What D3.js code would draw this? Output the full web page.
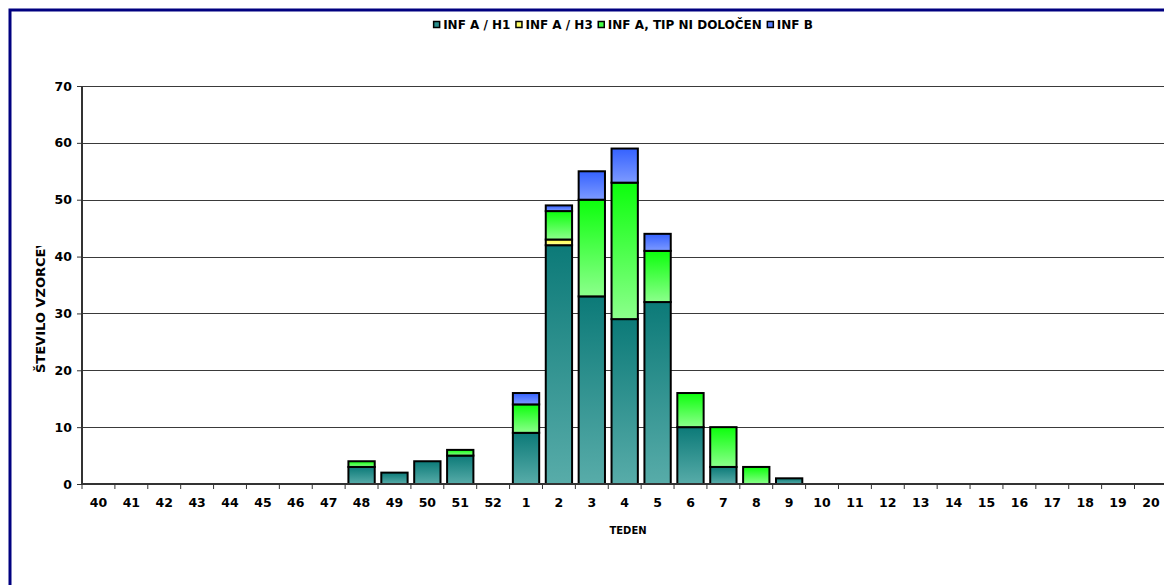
<!DOCTYPE html>
<html>
<head>
<meta charset="utf-8">
<script src="https://cdn.jsdelivr.net/npm/d3@7"></script>
<style>
  html, body { margin: 0; padding: 0; background: #fff; }
  svg { display: block; }
  text { font-family: "DejaVu Sans", Verdana, sans-serif; font-weight: bold; fill: #000; }
</style>
</head>
<body>
<svg id="chart" width="1164" height="585"></svg>
<script>
// Weeks of the season (week 40 to week 20 of next year)
const weeks = ["40","41","42","43","44","45","46","47","48","49","50","51","52",
               "1","2","3","4","5","6","7","8","9","10","11","12","13","14","15","16","17","18","19","20"];

// Number of positive samples per week, by virus type
const infAH1 = [0,0,0,0,0,0,0,0, 3,2,4,5,0, 9,42,33,29,32,10,3,0,1, 0,0,0,0,0,0,0,0,0,0,0];
const infAH3 = [0,0,0,0,0,0,0,0, 0,0,0,0,0, 0,1,0,0,0,0,0,0,0, 0,0,0,0,0,0,0,0,0,0,0];
const infANd = [0,0,0,0,0,0,0,0, 1,0,0,1,0, 5,5,17,24,9,6,7,3,0, 0,0,0,0,0,0,0,0,0,0,0];
const infB   = [0,0,0,0,0,0,0,0, 0,0,0,0,0, 2,1,5,6,3,0,0,0,0, 0,0,0,0,0,0,0,0,0,0,0];

const seriesNames = ["INF A / H1", "INF A / H3", "INF A, TIP NI DOLOČEN", "INF B"];
const yTicks = [0, 10, 20, 30, 40, 50, 60, 70];

const rows = weeks.map((w, i) => ({ week: w, s0: infAH1[i], s1: infAH3[i], s2: infANd[i], s3: infB[i] }));
const keys = ["s0", "s1", "s2", "s3"];

// gradient stops (top, bottom) per series
const grads = [
  ["#0c7a78", "#58aca9"],
  ["#ffff44", "#ffff99"],
  ["#0cff0c", "#8cff8c"],
  ["#3562ff", "#7d9aff"]
];
const legendFill = ["#2a8f8d", "#ffff66", "#44ff44", "#5a80ff"];

const svg = d3.select("#chart");
const defs = svg.append("defs");
grads.forEach((g, i) => {
  const lg = defs.append("linearGradient").attr("id", "g" + i)
    .attr("x1", 0).attr("y1", 0).attr("x2", 0).attr("y2", 1);
  lg.append("stop").attr("offset", "0%").attr("stop-color", g[0]);
  lg.append("stop").attr("offset", "100%").attr("stop-color", g[1]);
});

// outer chart frame
svg.append("rect").attr("x", 10).attr("y", 10).attr("width", 1200).attr("height", 620)
  .attr("fill", "#fff").attr("stroke", "#000080").attr("stroke-width", 3);

const plot = { left: 82, right: 1167.4, top: 86, bottom: 484 };

const x = d3.scaleBand().domain(weeks).range([plot.left, plot.right]).paddingInner(0.2).paddingOuter(0.1);
const y = d3.scaleLinear().domain([0, 70]).range([plot.bottom, plot.top]);

// horizontal gridlines
svg.append("g").selectAll("line").data(yTicks.filter(t => t > 0)).join("line")
  .attr("x1", plot.left).attr("x2", 1164)
  .attr("y1", d => Math.round(y(d)) + 0.5).attr("y2", d => Math.round(y(d)) + 0.5)
  .attr("stroke", "#3a3a3a").attr("stroke-width", 1);

// stacked bars
const stack = d3.stack().keys(keys)(rows);
stack.forEach((layer, si) => {
  svg.append("g").selectAll("rect")
    .data(layer.filter(d => d[1] - d[0] > 0))
    .join("rect")
    .attr("x", d => x(d.data.week))
    .attr("width", x.bandwidth())
    .attr("y", d => y(d[1]))
    .attr("height", d => y(d[0]) - y(d[1]))
    .attr("fill", `url(#g${si})`)
    .attr("stroke", "#000").attr("stroke-width", 2);
});

// Y axis
const yAxis = svg.append("g").attr("transform", `translate(${plot.left},0)`)
  .call(d3.axisLeft(y).tickValues(yTicks).tickSize(5).tickPadding(5).tickFormat(d3.format("d")));
yAxis.select(".domain").remove();
yAxis.selectAll(".tick line").attr("stroke", "#333");
yAxis.selectAll(".tick text").style("font-size", "12.5px").style("font-family", "DejaVu Sans").style("font-weight", "bold").attr("fill", "#000");
svg.append("line").attr("x1", plot.left).attr("x2", plot.left).attr("y1", plot.top).attr("y2", plot.bottom + 1)
  .attr("stroke", "#333").attr("stroke-width", 2);

// X axis
const xAxisG = svg.append("g").attr("transform", `translate(0,${plot.bottom})`);
xAxisG.append("line").attr("x1", plot.left).attr("x2", 1164).attr("y1", 0).attr("y2", 0)
  .attr("stroke", "#333").attr("stroke-width", 2);
xAxisG.selectAll("line.tk").data(weeks).join("line").attr("class", "tk")
  .attr("x1", d => x(d) - x.step() * x.paddingInner() / 2)
  .attr("x2", d => x(d) - x.step() * x.paddingInner() / 2)
  .attr("y1", 0).attr("y2", 5).attr("stroke", "#333").attr("stroke-width", 1);
xAxisG.selectAll("text").data(weeks).join("text")
  .attr("x", d => x(d) + x.bandwidth() / 2).attr("y", 23)
  .attr("text-anchor", "middle").style("font-size", "12.5px").text(d => d);

// axis titles
svg.append("text").attr("x", 628).attr("y", 534).attr("text-anchor", "middle")
  .style("font-size", "10px").text("TEDEN");

defs.append("clipPath").attr("id", "ytclip").append("rect")
  .attr("x", 20).attr("y", 246).attr("width", 40).attr("height", 150);
svg.append("g").attr("clip-path", "url(#ytclip)")
  .append("text").attr("transform", "translate(45,373) rotate(-90)")
  .attr("text-anchor", "start").style("font-size", "13px").text("ŠTEVILO VZORCEV");

// legend
const legend = svg.append("g");
let lx = 0;
seriesNames.forEach((name, i) => {
  const g = legend.append("g").attr("transform", `translate(${lx},0)`);
  g.append("rect").attr("x", 0.5).attr("y", -7.5).attr("width", 6).attr("height", 6)
    .attr("fill", legendFill[i]).attr("stroke", "#000").attr("stroke-width", 1.5);
  const t = g.append("text").attr("x", 10).attr("y", 0).style("font-size", "12px").text(name);
  lx += 10 + t.node().getComputedTextLength() + 5;
});
const lw = lx - 5;
legend.attr("transform", `translate(${623 - lw / 2},29)`);
</script>
</body>
</html>
